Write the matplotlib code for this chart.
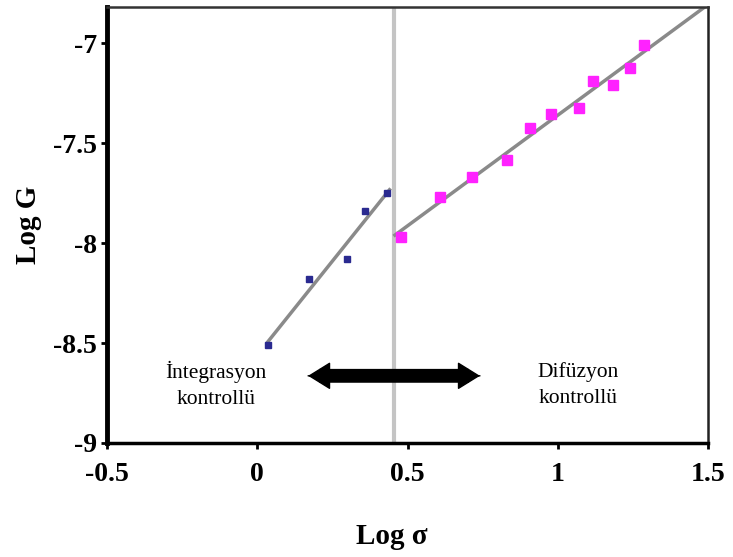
import numpy as np
import matplotlib
matplotlib.use("Agg")
import matplotlib.pyplot as plt

# Data
blue_x = [0.036, 0.172, 0.299, 0.359, 0.432]
blue_y = [-8.51, -8.18, -8.08, -7.84, -7.75]
mag_x = [0.477, 0.608, 0.716, 0.830, 0.906, 0.976, 1.072, 1.116, 1.183, 1.240, 1.288]
mag_y = [-7.967, -7.77, -7.667, -7.583, -7.423, -7.353, -7.323, -7.187, -7.207, -7.123, -7.008]
blue_line_x = [0.036, 0.44]
mag_line_x = [0.458, 1.5]
divider_x = 0.455
arrow_x = [0.169, 0.741]
arrow_y = -8.664
xticks = [-0.5, 0, 0.5, 1, 1.5]
xtick_labels = ["-0.5", "0", "0.5", "1", "1.5"]
yticks = [-9, -8.5, -8, -7.5, -7]
ytick_labels = ["-9", "-8.5", "-8", "-7.5", "-7"]

plt.rcParams['font.family'] = ['Liberation Serif', 'DejaVu Serif']

fig = plt.figure(figsize=(7.33, 5.57), dpi=100)
ax = fig.add_axes([0.146, 0.2047, 0.82, 0.7823])

ax.set_xlim(-0.5, 1.5)
ax.set_ylim(-9, -6.82)

# vertical divider
ax.axvline(divider_x, color='#c4c4c4', lw=3, zorder=1)

# fit lines
bp = np.polyfit(blue_x, blue_y, 1)
mp = np.polyfit(mag_x, mag_y, 1)
bx = np.array(blue_line_x)
mx = np.array(mag_line_x)
ax.plot(bx, np.polyval(bp, bx), color='#8a8a8a', lw=2.5, zorder=2)
ax.plot(mx, np.polyval(mp, mx), color='#8a8a8a', lw=2.5, zorder=2)

ax.plot(blue_x, blue_y, 's', color='#2a2a90', ms=5, zorder=3)
ax.plot(mag_x, mag_y, 's', color='#ff22ff', ms=7.5, zorder=3)

# double arrow: thick body + two filled heads
ax.annotate('', xy=(arrow_x[0], arrow_y), xytext=(arrow_x[1], arrow_y),
            arrowprops=dict(arrowstyle='-', lw=10, color='black',
                            shrinkA=8, shrinkB=8, capstyle='butt'), zorder=4)
for tip, tail in ((arrow_x[0], arrow_x[1]), (arrow_x[1], arrow_x[0])):
    ax.annotate('', xy=(tip, arrow_y), xytext=(tail, arrow_y),
                arrowprops=dict(arrowstyle='-|>,head_length=1.45,head_width=0.9',
                                mutation_scale=10, lw=1, color='black',
                                shrinkA=0, shrinkB=0), zorder=4)

ax.text(-0.137, -8.71, "İntegrasyon\nkontrollü", ha='center', va='center',
        fontsize=15.5, linespacing=1.45)
ax.text(1.067, -8.71, "Difüzyon\nkontrollü", ha='center', va='center',
        fontsize=15.5, linespacing=1.45)

ax.set_xticks(xticks)
ax.set_xticklabels(xtick_labels, fontsize=20, fontweight='bold')
ax.set_yticks(yticks)
ax.set_yticklabels(ytick_labels, fontsize=20, fontweight='bold')
ax.tick_params(axis='both', direction='out', length=4, width=2)
ax.tick_params(axis='x', pad=10)
ax.tick_params(axis='y', pad=3)

ax.set_xlabel("Log σ", fontsize=21, fontweight='bold')
ax.xaxis.set_label_coords(0.473, -0.183)
ax.set_ylabel("Log G", fontsize=21, fontweight='bold')
ax.yaxis.set_label_coords(-0.108, 0.5)

ax.spines['left'].set_linewidth(3.5)
ax.spines['bottom'].set_linewidth(2.5)
ax.spines['top'].set_linewidth(1.8)
ax.spines['right'].set_linewidth(1.8)
ax.spines['top'].set_color('#333333')
ax.spines['right'].set_color('#222222')

fig.savefig("out.png", dpi=100)
